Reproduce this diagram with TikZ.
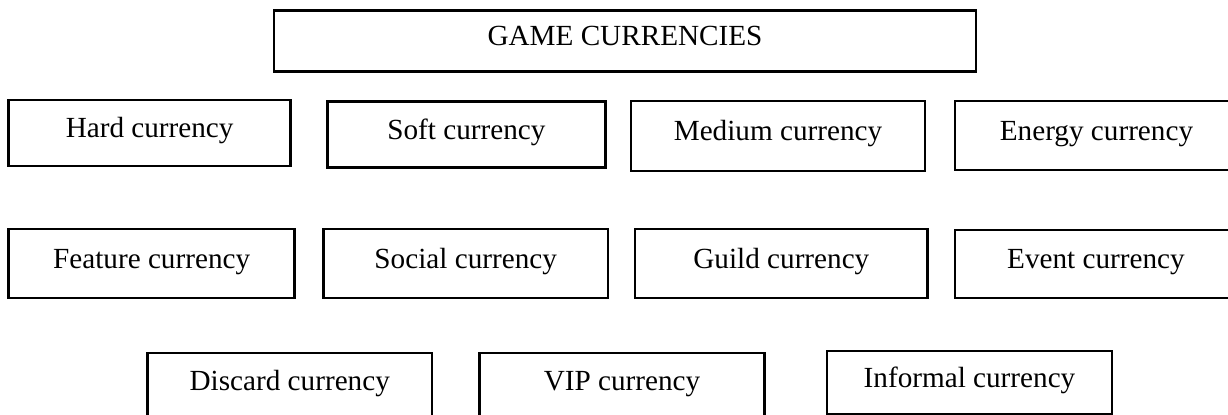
\documentclass[tikz,border=0pt]{standalone}
\usepackage{fontspec}
\setmainfont{Liberation Serif}
\begin{document}
\begin{tikzpicture}[x=0.5pt,y=-0.5pt,
  bx/.style 2 args={draw=black, line width=1.3pt, inner sep=0pt,
    minimum width=#1*0.5pt, minimum height=#2*0.5pt,
    text height=0.683em, text depth=0.217em,
    font=\fontsize{14.6pt}{17pt}\selectfont}]
\useasboundingbox (0,0) rectangle (1228,414);
\clip (0,0) rectangle (1228,414);
\node[bx={702}{61}] (title) at (625,41.2) {GAME CURRENCIES};
\node[bx={282}{66}] (hard) at (149.65,133) {Hard currency};
\node[bx={278}{66}] (soft) at (466.4,134.7) {Soft currency};
\node[bx={294}{70}] (medium) at (778,136) {Medium currency};
\node[bx={283}{69}] (energy) at (1096.5,135.5) {Energy currency};
\node[bx={286}{69}] (feature) at (151.65,263.5) {Feature currency};
\node[bx={284.6}{69}] (social) at (465.7,263.5) {Social currency};
\node[bx={292.7}{69}] (guild) at (781.35,263.5) {Guild currency};
\node[bx={282}{68}] (event) at (1096,264) {Event currency};
\node[bx={284.5}{66}] (discard) at (289.75,386) {Discard currency};
\node[bx={285}{66}] (vip) at (622,386) {VIP currency};
\node[bx={285}{63}] (informal) at (969.5,382.5) {Informal currency};
\end{tikzpicture}
\end{document}
